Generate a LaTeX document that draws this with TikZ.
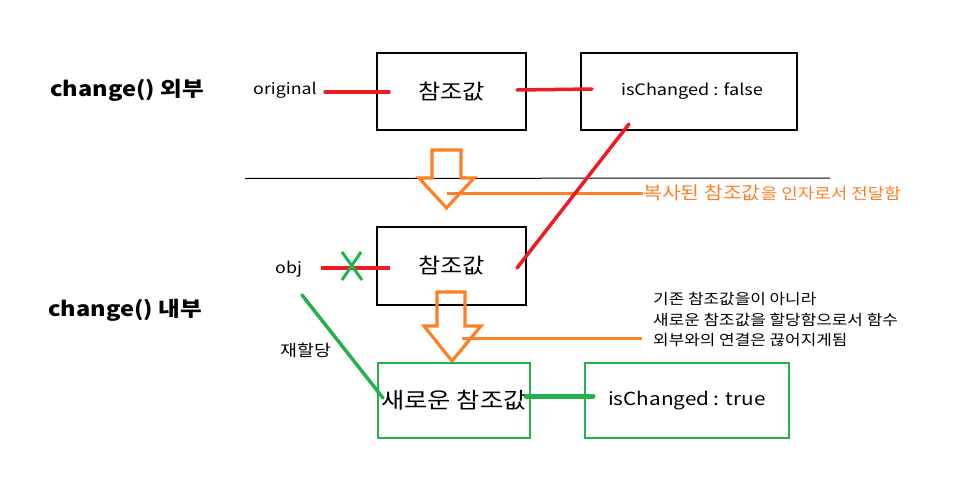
\documentclass[tikz,border=0pt]{standalone}
\usepackage{fontspec}
\setmainfont{Noto Sans CJK KR}[FakeStretch=1.15]
\definecolor{pred}{HTML}{ED1C24}
\definecolor{porange}{HTML}{FF7F27}
\definecolor{pgreen}{HTML}{22B14C}
\begin{document}
\begin{tikzpicture}[x=1pt,y=-1pt,
  blackbox/.style={draw=black,line width=2.6pt,inner sep=0pt},
  greenbox/.style={draw=pgreen,line width=2.4pt,inner sep=0pt},
  redline/.style={draw=pred,line width=3.5pt,line cap=round},
  greenline/.style={draw=pgreen,line width=3.5pt,line cap=round},
  orangeline/.style={draw=porange,line width=3pt},
  hollowarrow/.style={draw=porange,line width=3.2pt,line join=miter},
  title/.style={font=\fontsize{20.5}{24}\selectfont\bfseries,anchor=west,inner sep=0pt},
  label/.style={font=\fontsize{15.5}{19}\selectfont,anchor=west,inner sep=0pt}]
\useasboundingbox (0,0) rectangle (968,479);
% titles
\node[title] (t1) at (50,90) {change() 외부};
\node[title] (t2) at (48,310) {change() 내부};
% top row
\node[label] (orig) at (253,90) {original};
\node[blackbox,minimum width=149,minimum height=77,font=\fontsize{21}{24}\selectfont] (r1) at (451.5,91.5) {참조값};
\node[blackbox,minimum width=216,minimum height=77,font=\fontsize{15.7}{19}\selectfont] (s1) at (689,91.5) {\hspace*{6pt}isChanged : false};
\coordinate (o1a) at (325,92);
\coordinate (o1b) at (389,92);
\draw[redline] (o1a) -- (o1b);
\coordinate (r1a) at (517,90);
\coordinate (r1b) at (592,89);
\draw[redline] (r1a) -- (r1b);
% separator
\coordinate (sepA) at (245,178.5);
\coordinate (sepB) at (830,178);
\draw[line width=1pt] (sepA) -- (sepB);
% arrow 1
\draw[hollowarrow] (432,150) -- (461,150) -- (461,178) -- (474,178) -- (446.5,208) -- (419,178) -- (432,178) -- cycle;
\node[anchor=west,inner sep=0pt,text=porange] (n1) at (643,193) {\fontsize{17.8}{20}\selectfont 복사된 참조값\fontsize{15.6}{18}\selectfont 을 인자로서 전달함};
\coordinate (n1a) at (447,193);
\draw[orangeline] (n1a) -- (n1.west);
% lower reference box
\node[blackbox,minimum width=149,minimum height=78,font=\fontsize{21}{24}\selectfont] (r2) at (451.5,266) {참조값};
\node[label] (obj) at (275,269) {obj};
\coordinate (o2a) at (321,268);
\coordinate (o2b) at (390,268);
\draw[redline,line cap=butt] (o2a) -- (o2b);
\coordinate (x1) at (342,252);
\coordinate (x2) at (362,280);
\coordinate (x3) at (361,252);
\coordinate (x4) at (342,280);
\draw[greenline,line width=3pt,line cap=butt] (x1) -- (x2);
\draw[greenline,line width=3pt,line cap=butt] (x3) -- (x4);
% red diagonal
\coordinate (dA) at (629,124);
\coordinate (dB) at (517,268);
\draw[redline] (dA) -- (dB);
% arrow 2
\draw[hollowarrow] (437,292) -- (465,292) -- (465,326) -- (481,326) -- (452,361) -- (424,326) -- (437,326) -- cycle;
\node[anchor=north west,inner sep=0pt,align=left,font=\fontsize{14.7}{20.5}\selectfont] (n2) at (653,292.5) {기존 참조값을이 아니라\\새로운 참조값을 할당함으로서 함수\\외부와의 연결은 끊어지게됨};
\coordinate (n2a) at (462,338);
\coordinate (n2b) at (642,338);
\draw[orangeline] (n2a) -- (n2b);
% green part
\node[greenbox,minimum width=152,minimum height=75,font=\fontsize{22}{24}\selectfont] (r3) at (454,400.5) {새로운 참조값};
\node[greenbox,minimum width=204,minimum height=75,font=\fontsize{18}{22}\selectfont] (s2) at (687,400.5) {isChanged : true};
\coordinate (gA) at (302,295);
\coordinate (gB) at (383,398);
\draw[greenline] (gA) -- (gB);
\node[label,font=\fontsize{16}{18}\selectfont] (re) at (280,350) {재할당};
\coordinate (g2a) at (526,396);
\coordinate (g2b) at (593,396);
\draw[greenline,line width=5pt] (g2a) -- (g2b);
\end{tikzpicture}
\end{document}
